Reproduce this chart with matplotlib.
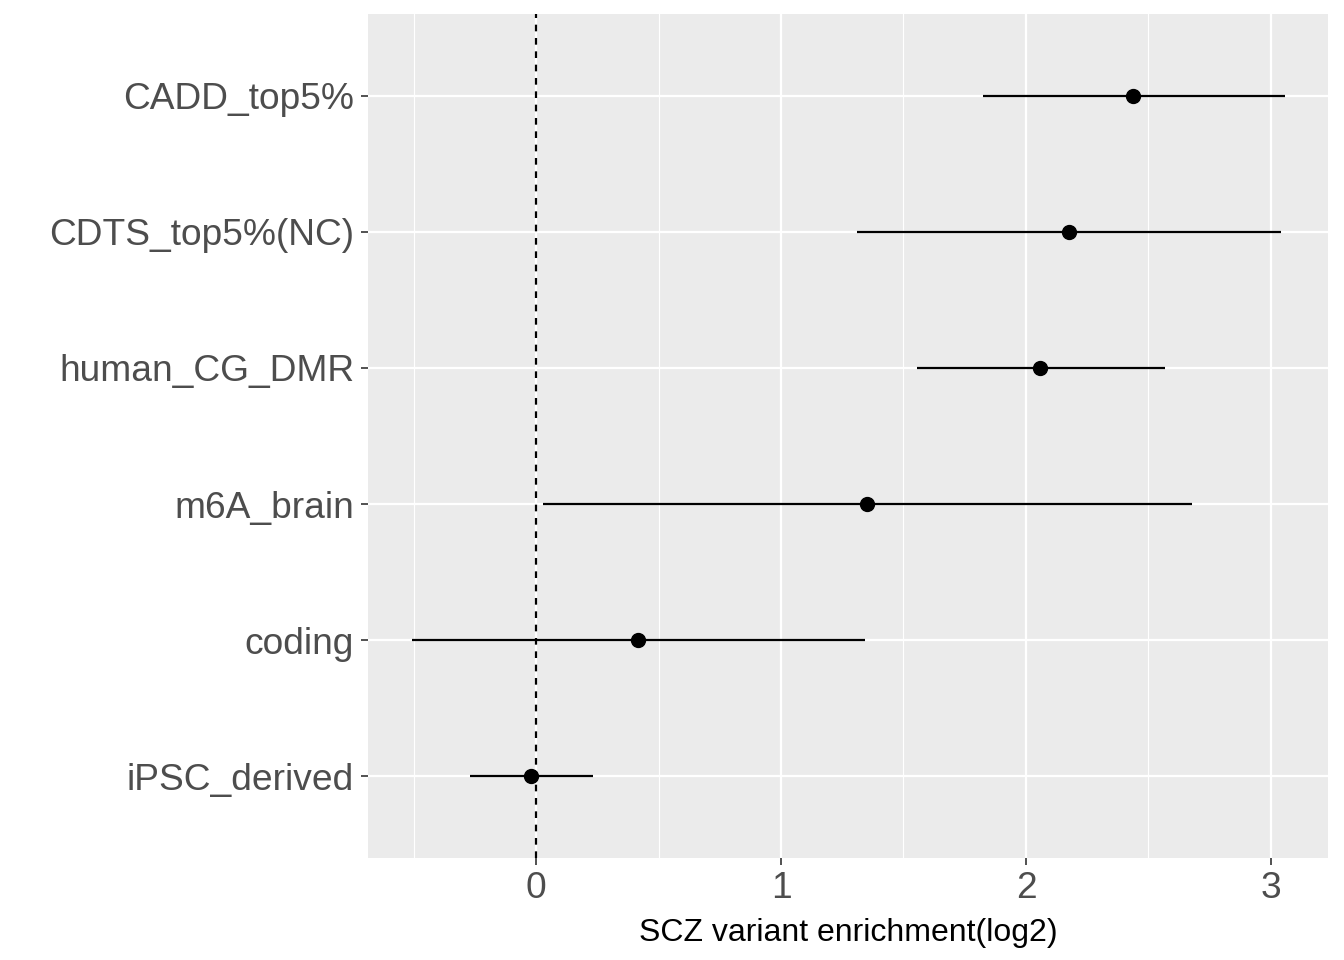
import matplotlib
matplotlib.use('Agg')
from matplotlib import pyplot as plt

categories = ['CADD_top5%', 'CDTS_top5%(NC)', 'human_CG_DMR', 'm6A_brain', 'coding', 'iPSC_derived']
estimate = [2.437, 2.176, 2.057, 1.351, 0.416, -0.020]
lower = [1.824, 1.310, 1.555, 0.029, -0.506, -0.269]
upper = [3.057, 3.041, 2.567, 2.678, 1.343, 0.233]
xticks = [0, 1, 2, 3]

plt.rcParams['font.family'] = ['Liberation Sans', 'DejaVu Sans']

fig = plt.figure(figsize=(13.44, 9.6), dpi=100)
ax = fig.add_axes([368 / 1344, 1 - 858 / 960, 960 / 1344, 844 / 960])
ax.set_facecolor('#EBEBEB')

n = len(categories)
ypos = list(range(n - 1, -1, -1))

for x in [-0.5, 0.5, 1.5, 2.5]:
    ax.axvline(x, color='white', lw=0.8, zorder=0)
for x in xticks:
    ax.axvline(x, color='white', lw=1.6, zorder=0)
for y in ypos:
    ax.axhline(y, color='white', lw=1.6, zorder=0)

ax.axvline(0, color='black', lw=1.6, ls=(0, (3, 3)), zorder=1)
ax.hlines(ypos, lower, upper, color='black', lw=1.6, zorder=2)
ax.scatter(estimate, ypos, s=100, color='black', zorder=3)

ax.set_xlim(-0.686, 3.233)
ax.set_ylim(-0.6, n - 1 + 0.6)
ax.set_xticks(xticks)
ax.set_xticklabels([str(t) for t in xticks])
ax.set_yticks(ypos)
ax.set_yticklabels(categories)
ax.tick_params(axis='both', colors='#333333', length=5, width=1.2, labelsize=26.7, labelcolor='#4D4D4D')
ax.tick_params(axis='x', pad=4)
ax.tick_params(axis='y', pad=5)
for s in ax.spines.values():
    s.set_visible(False)

ax.set_xlabel('SCZ variant enrichment(log2)', fontsize=23, color='black', labelpad=9)

fig.savefig('out.png', dpi=100)
